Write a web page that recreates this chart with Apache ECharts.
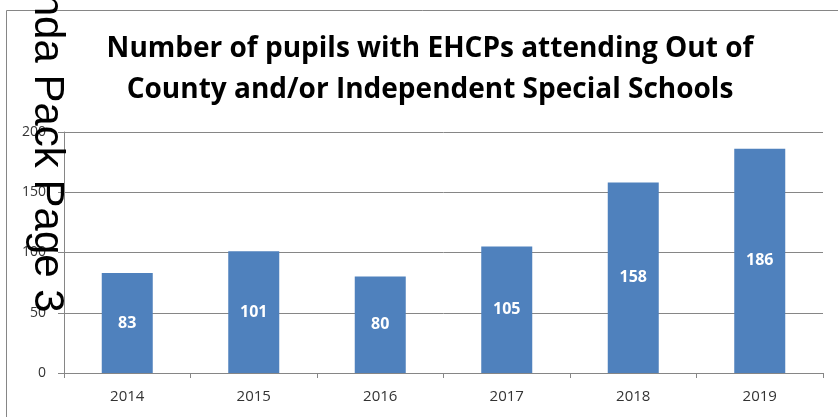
<!DOCTYPE html>
<html>
<head>
<meta charset="utf-8">
<script src="https://cdn.jsdelivr.net/npm/echarts@6/dist/echarts.min.js"></script>
<style>
  html, body { margin: 0; padding: 0; background: #fff; }
  #chart { width: 838px; height: 417px; }
</style>
</head>
<body>
<div id="chart"></div>
<script>
// data
var years = ['2014', '2015', '2016', '2017', '2018', '2019'];
var pupils = [83, 101, 80, 105, 158, 186];
var yTicks = [0, 50, 100, 150, 200];

var chartDom = document.getElementById('chart');
var myChart = echarts.init(chartDom);
var option;

option = {
  animation: false,
  title: {
    text: 'Number of pupils with EHCPs attending Out of\nCounty and/or Independent Special Schools',
    left: 425,
    textAlign: 'center',
    top: 24,
    textStyle: {
      fontFamily: 'Open Sans',
      fontWeight: 'bold',
      fontSize: 28,
      lineHeight: 41,
      color: '#000'
    }
  },
  grid: {
    left: 64,
    right: 15,
    top: 132,
    bottom: 44
  },
  xAxis: {
    type: 'category',
    data: years,
    axisLine: { lineStyle: { color: '#868686', width: 1 } },
    axisTick: { show: true, length: 5, lineStyle: { color: '#868686' } },
    axisLabel: {
      color: '#333',
      fontFamily: 'Open Sans',
      fontSize: 15,
      margin: 16
    }
  },
  yAxis: {
    type: 'value',
    min: yTicks[0],
    max: yTicks[yTicks.length - 1],
    interval: 50,
    axisLine: { show: true, lineStyle: { color: '#868686', width: 1 } },
    axisTick: { show: true, length: 6, lineStyle: { color: '#868686' } },
    axisLabel: {
      color: '#333',
      fontFamily: 'Open Sans',
      fontSize: 14,
      margin: 18
    },
    splitLine: { lineStyle: { color: '#868686', width: 1 } }
  },
  series: [
    {
      type: 'bar',
      data: pupils,
      barWidth: 51,
      itemStyle: { color: '#4f81bd' },
      label: {
        show: true,
        position: 'inside',
        color: '#fff',
        fontFamily: 'Open Sans',
        fontWeight: 'bold',
        fontSize: 16
      }
    }
  ],
  graphic: [
    {
      // chart area border, runs off the right and bottom
      type: 'rect',
      shape: { x: 6.5, y: 10.5, width: 900, height: 500 },
      style: { fill: 'none', stroke: '#868686', lineWidth: 1 },
      z: 0
    },
    {
      // stamp from the pdf page, rotated down the left side
      type: 'text',
      x: 47,
      y: -82,
      rotation: -Math.PI / 2,
      style: {
        text: 'Agenda Pack Page 3',
        font: '42px "Liberation Sans"',
        fill: '#000',
        align: 'left',
        verticalAlign: 'middle'
      },
      z: 100
    }
  ]
};

option && myChart.setOption(option);
</script>
</body>
</html>
